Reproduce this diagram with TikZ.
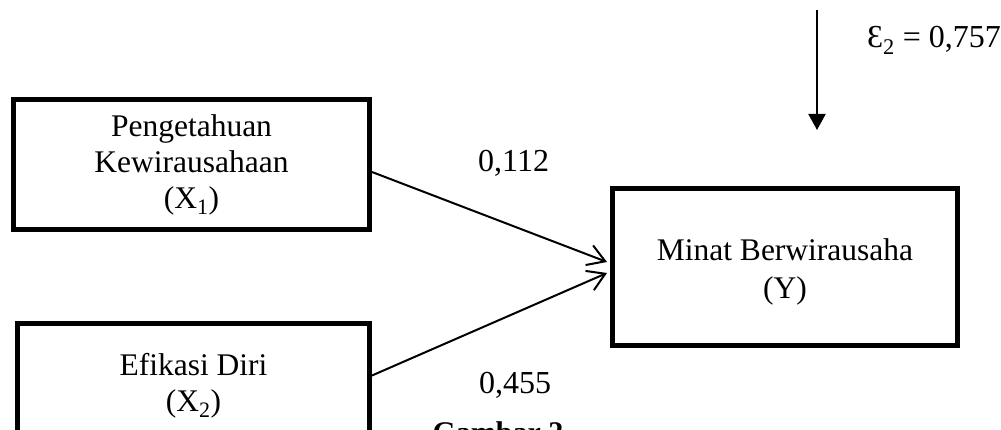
\documentclass[tikz,border=0pt]{standalone}
\usepackage{fontspec}
\setmainfont{Liberation Serif}
\usetikzlibrary{arrows.meta}
\begin{document}
\begin{tikzpicture}[x=1pt,y=-1pt,
  box/.style={draw,line width=5pt,inner sep=0pt,align=center,
    font=\fontsize{31.5}{36}\selectfont},
  lbl/.style={inner sep=0pt,anchor=base west,font=\fontsize{32}{36}\selectfont},
  conn/.style={line width=2pt,-{Straight Barb[length=17pt,width=21pt,line width=2pt]}},
  errarrow/.style={line width=2pt,-{Triangle[length=16pt,width=17pt]}},
]
\useasboundingbox (0,0) rectangle (1001,430);
\clip (0,0) rectangle (1001,430);

\node[box,minimum width=356pt,minimum height=130pt] (X1) at (191.5,164.5)
  {Pengetahuan\\Kewirausahaan\\(X\textsubscript{1})};
\node[box,minimum width=352pt,minimum height=124pt] (X2) at (193.5,385.5)
  {Efikasi Diri\\(X\textsubscript{2})};
\node[box,minimum width=345pt,minimum height=157pt,
  font=\fontsize{31.5}{38}\selectfont] (Y) at (785,267)
  {\rule{0pt}{31pt}Minat Berwirausaha\\(Y)};

\draw[conn] ([yshift=-7.5pt]X1.east) -- ([xshift=-3pt,yshift=5pt]Y.west);
\draw[conn] ([yshift=10pt]X2.east) -- ([xshift=-3pt,yshift=-6pt]Y.west);

\coordinate (etop) at (817,10);
\coordinate (ebot) at (817,130);
\draw[errarrow] (etop) -- (ebot);

\node[lbl] (b1) at (478,172) {0,112};
\node[lbl] (b2) at (479,393) {0,455};
\node[lbl] (eps) at (867,48) {Ɛ\textsubscript{2} = 0,757};
\node[inner sep=0pt,anchor=base,font=\fontsize{30}{36}\selectfont\bfseries] (cap) at (498,442) {Gambar 2};
\end{tikzpicture}
\end{document}
